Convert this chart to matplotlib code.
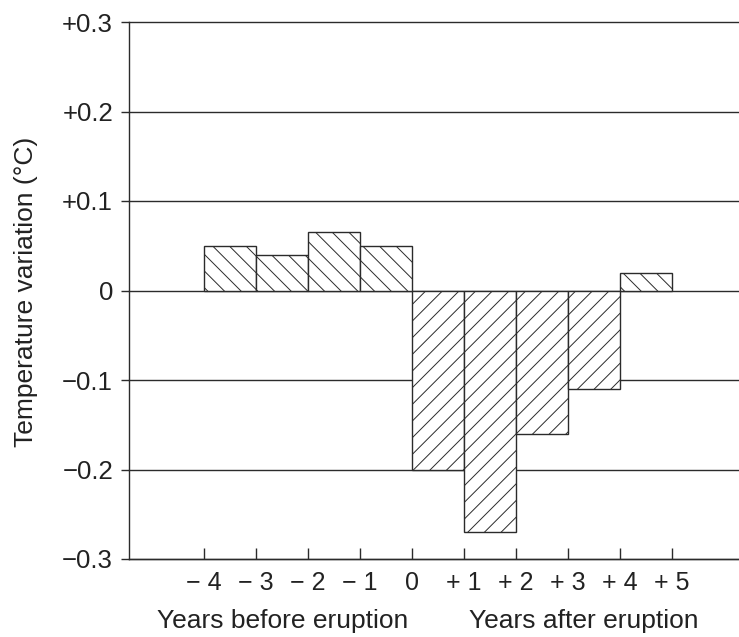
import matplotlib
matplotlib.use('Agg')
import matplotlib.pyplot as plt
import matplotlib.transforms as mtransforms

plt.rcParams['font.family'] = ['Liberation Sans', 'DejaVu Sans']
plt.rcParams['hatch.linewidth'] = 0.7
ink = '#2b2b2b'
plt.rcParams['hatch.color'] = ink

# data
tick_years = [-4, -3, -2, -1, 0, 1, 2, 3, 4, 5]
tick_labels = ['\u2212 4', '\u2212 3', '\u2212 2', '\u2212 1', '0',
               '+ 1', '+ 2', '+ 3', '+ 4', '+ 5']
bar_start = [-4, -3, -2, -1, 0, 1, 2, 3, 4]
temp_var = [0.05, 0.04, 0.065, 0.05, -0.2, -0.27, -0.16, -0.11, 0.02]
y_ticks = [-0.3, -0.2, -0.1, 0.0, 0.1, 0.2, 0.3]
y_labels = ['\u22120.3', '\u22120.2', '\u22120.1', '0', '+0.1', '+0.2', '+0.3']

fig = plt.figure(figsize=(7.39, 6.37), dpi=100)
ax = fig.add_axes([129/739, 1 - 559/637, 1 - 129/739, (559 - 22)/637])

hatches = ['\\\\' if v > 0 else '//' for v in temp_var]
bars = ax.bar(bar_start, temp_var, width=1.0, align='edge',
              color='white', edgecolor=ink, linewidth=1.0, zorder=3)
for b, h in zip(bars, hatches):
    b.set_hatch(h)

ax.set_xlim(-5.45, 6.3)
ax.set_ylim(-0.3, 0.3)
ax.set_yticks(y_ticks)
ax.set_yticklabels(y_labels)
ax.set_xticks(tick_years)
ax.set_xticklabels(tick_labels)

ax.yaxis.grid(True, color=ink, linewidth=1.0, clip_on=False)
ax.set_axisbelow(True)

for s in ['top', 'right']:
    ax.spines[s].set_visible(False)
for s in ['left', 'bottom']:
    ax.spines[s].set_color(ink)
    ax.spines[s].set_linewidth(1.0)

ax.tick_params(axis='y', direction='out', length=6, width=1.0, color=ink,
               pad=5.5, labelsize=18.5, labelcolor='#222222')
ax.tick_params(axis='x', direction='in', length=8, width=1.0, color=ink,
               pad=8.6, labelsize=18, labelcolor='#222222')

# second row of x labels
trans = mtransforms.blended_transform_factory(ax.transData, fig.transFigure)
ax.text(-2.5, 1 - 628/637, 'Years before eruption', transform=trans,
        ha='center', va='baseline', fontsize=19, color='#222222')
ax.text(3.3, 1 - 628/637, 'Years after eruption', transform=trans,
        ha='center', va='baseline', fontsize=19, color='#222222')

fig.text(26/739, 1 - 292/637, 'Temperature variation (\u00b0C)', rotation=90,
         ha='center', va='center', fontsize=19, color='#222222')

fig.savefig('out.png', dpi=100)
